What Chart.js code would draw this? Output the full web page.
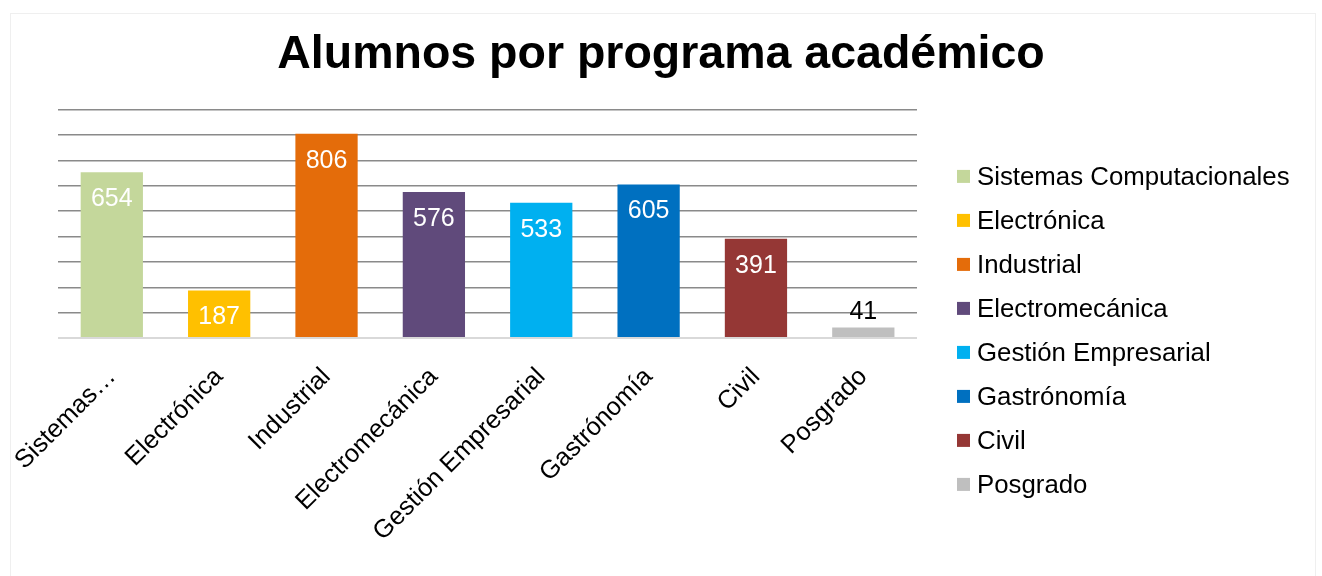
<!DOCTYPE html>
<html>
<head>
<meta charset="utf-8">
<script src="https://cdn.jsdelivr.net/npm/chart.js@4.4.1/dist/chart.umd.min.js"></script>
<style>
  html, body { margin: 0; padding: 0; background: #fff; }
  #wrap { position: relative; width: 1322px; height: 576px; }
  #frame { position: absolute; left: 10px; top: 13px; width: 1306px; height: 580px; border: 1px solid #efefef; box-sizing: border-box; pointer-events: none; }
</style>
</head>
<body>
<div id="wrap">
  <canvas id="c" width="1322" height="576"></canvas>
  <div id="frame"></div>
</div>
<script>
const titleText = 'Alumnos por programa académico';
const categories = ['Sistemas Computacionales', 'Electrónica', 'Industrial', 'Electromecánica', 'Gestión Empresarial', 'Gastrónomía', 'Civil', 'Posgrado'];
const tickLabels = ['Sistemas…', 'Electrónica', 'Industrial', 'Electromecánica', 'Gestión Empresarial', 'Gastrónomía', 'Civil', 'Posgrado'];
const alumnos = [654, 187, 806, 576, 533, 605, 391, 41];
const colors = ['#C4D79B', '#FFC000', '#E46C0A', '#604A7B', '#00B0F0', '#0070C0', '#953735', '#BFBFBF'];

const FONT = '"Liberation Sans", Arial, sans-serif';

const valueLabels = {
  id: 'valueLabels',
  afterDatasetsDraw(chart) {
    const ctx = chart.ctx;
    const meta = chart.getDatasetMeta(0);
    ctx.save();
    ctx.font = '25px ' + FONT;
    ctx.textAlign = 'center';
    ctx.textBaseline = 'middle';
    meta.data.forEach((bar, i) => {
      const h = bar.base - bar.y;
      if (h > 30) {
        ctx.fillStyle = '#ffffff';
        ctx.fillText(String(alumnos[i]), bar.x, bar.y + 27);
      } else {
        ctx.fillStyle = '#000000';
        ctx.fillText(String(alumnos[i]), bar.x, bar.y - 16);
      }
    });
    ctx.restore();
  }
};

// Legend drawn as a Chart.js plugin (vertical list at the right of the plot)
const sideLegend = {
  id: 'sideLegend',
  afterDraw(chart) {
    const ctx = chart.ctx;
    const area = chart.chartArea;
    const x0 = area.right + 40;
    const rowH = 44;
    const mid = (area.top + area.bottom) / 2 + 106.5;
    const yStart = mid - rowH * (categories.length - 1) / 2;
    ctx.save();
    ctx.font = '25.8px ' + FONT;
    ctx.textAlign = 'left';
    ctx.textBaseline = 'middle';
    categories.forEach((c, i) => {
      const y = yStart + i * rowH;
      ctx.fillStyle = colors[i];
      ctx.fillRect(x0, y - 6.5, 13, 13);
      ctx.fillStyle = '#000';
      ctx.fillText(c, x0 + 20, y + 1);
    });
    ctx.restore();
  }
};

new Chart(document.getElementById('c'), {
  type: 'bar',
  data: {
    labels: categories,
    datasets: [{
      label: 'Alumnos',
      data: alumnos,
      backgroundColor: colors,
      borderWidth: 0,
      barPercentage: 0.58,
      categoryPercentage: 1.0
    }]
  },
  options: {
    responsive: false,
    animation: false,
    devicePixelRatio: 1,
    layout: { padding: { left: 0, right: 0, top: 0, bottom: 13 } },
    plugins: {
      title: {
        display: true,
        text: titleText,
        color: '#000',
        font: { family: FONT, size: 46.5, weight: 'bold' },
        padding: { top: 27, bottom: 27 }
      },
      legend: { display: false },
      tooltip: { enabled: false }
    },
    scales: {
      x: {
        grid: { display: false },
        border: { display: false },
        ticks: {
          color: '#000',
          font: { family: FONT, size: 25.5 },
          minRotation: 45,
          maxRotation: 45,
          autoSkip: false,
          padding: 16,
          callback: (v, i) => tickLabels[i]
        }
      },
      y: {
        min: 0,
        max: 900,
        afterFit: s => { s.width = 58; },
        ticks: { display: false, stepSize: 100 },
        border: { display: false },
        grid: {
          drawTicks: false,
          color: c => (c.tick && c.tick.value === 0) ? '#d9d9d9' : '#8a8a8a',
          lineWidth: c => (c.tick && c.tick.value === 0) ? 2 : 1.5
        }
      },
      yR: {
        position: 'right',
        display: true,
        min: 0,
        max: 900,
        afterFit: s => { s.width = 405; },
        ticks: { display: false },
        border: { display: false },
        grid: { display: false, drawTicks: false }
      }
    }
  },
  plugins: [valueLabels, sideLegend]
});
</script>
</body>
</html>
